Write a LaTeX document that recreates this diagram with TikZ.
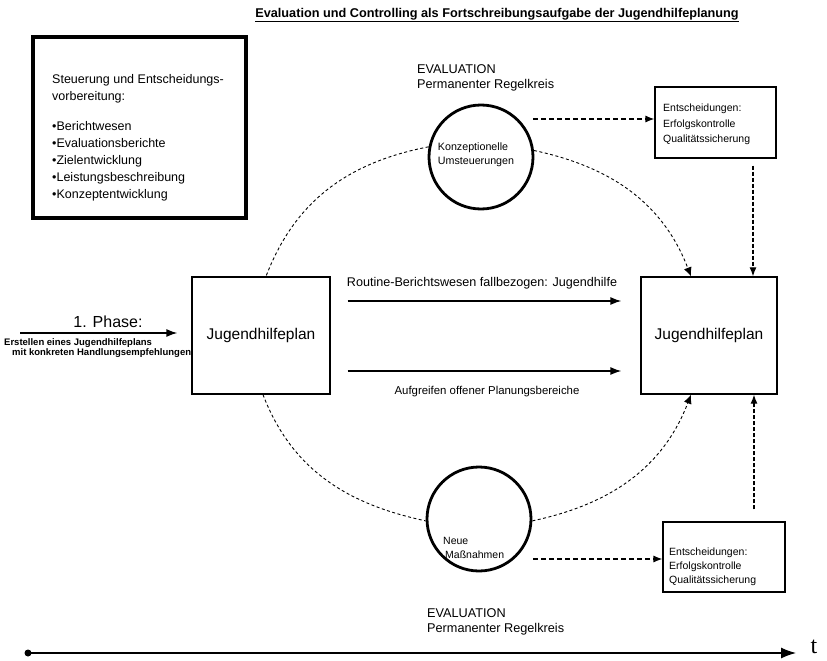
\documentclass[tikz,border=0pt]{standalone}
\usepackage{fontspec}
\setmainfont{Liberation Sans}
\newfontfamily\serifft{Liberation Serif}
\usetikzlibrary{arrows.meta,calc}
\begin{document}
\begin{tikzpicture}[x=1pt,y=-1pt,
  plan/.style={draw, line width=1.3pt, minimum width=138pt, minimum height=117pt, font=\fontsize{15.5}{17}\selectfont},
  ebox/.style={draw, line width=1.1pt},
  evcirc/.style={draw, circle, line width=2.8pt, minimum size=104pt, fill=white, inner sep=0pt},
  ell/.style={line width=0.9pt, dash pattern=on 3pt off 2.5pt},
  ellarrow/.style={ell, -{Latex[length=9pt,width=8pt]}},
  dcon/.style={line width=1.2pt, dash pattern=on 5pt off 3pt, -{Latex[length=9pt,width=7pt]}},
  vcon/.style={line width=1.2pt, dash pattern=on 4pt off 2pt, -{Latex[length=9pt,width=7pt]}},
  sarrow/.style={line width=1.3pt, -{Latex[length=11pt,width=8pt]}},
  txt/.style={inner sep=0pt, align=left},
]
\useasboundingbox (0,0) rectangle (827,661);

% title
\node[inner sep=0pt, font=\fontsize{12.7}{14}\selectfont\bfseries] (title) at (497,15)
  {\underline{Evaluation und Controlling als Fortschreibungsaufgabe der Jugendhilfeplanung}};

% steering box
\node[draw, line width=4pt, minimum width=213pt, minimum height=181pt, inner sep=0pt] (sb) at (139.5,127.5) {};
\node[txt, anchor=west, font=\fontsize{12.5}{17}\selectfont] (sbt) at (52,138)
  {Steuerung und Entscheidungs-\\vorbereitung:\\[13pt]
   •Berichtwesen\\•Evaluationsberichte\\•Zielentwicklung\\•Leistungsbeschreibung\\•Konzeptentwicklung};

% plan boxes
\node[plan] (lp) at (261,335.5) {Jugendhilfeplan};
\node[plan, minimum width=136pt] (rp) at (709,335.5) {Jugendhilfeplan};

% decision boxes
\node[ebox, minimum width=121pt, minimum height=71pt] (e1) at (715.5,122.5) {};
\node[txt, anchor=west, font=\fontsize{10.5}{15.5}\selectfont] (e1t) at (663,124.5)
  {Entscheidungen:\\Erfolgskontrolle\\Qualitätssicherung};
\node[ebox, minimum width=122pt, minimum height=70pt] (e2) at (724,557) {};
\node[txt, anchor=west, font=\fontsize{10.5}{14}\selectfont] (e2t) at (669,567)
  {Entscheidungen:\\Erfolgskontrolle\\Qualitätssicherung};

% evaluation labels
\node[txt, anchor=west, font=\fontsize{12.7}{15}\selectfont] (ev1) at (417,77.5)
  {EVALUATION\\Permanenter Regelkreis};
\node[txt, anchor=west, font=\fontsize{12.7}{15}\selectfont] (ev2) at (427,621.5)
  {EVALUATION\\Permanenter Regelkreis};

% big dashed loop
\node[evcirc] (tc) at (481,157) {};
\node[evcirc] (bc) at (479,519) {};
\draw[ell] (tc.169) to[out=191,in=69] ([xshift=5pt]lp.north);
\draw[ellarrow] (tc.7) to[out=-12,in=111] ([xshift=-18pt]rp.north);
\draw[ell] ([xshift=2pt]lp.south) to[out=-69,in=168] (bc.182);
\draw[ellarrow] (bc.-2) to[out=12,in=249] ([xshift=-18pt]rp.south);

\node[txt, font=\fontsize{10.7}{14}\selectfont] (tct) at (476,155)
  {Konzeptionelle\\Umsteuerungen};
\node[txt, anchor=west, font=\fontsize{10.5}{14.5}\selectfont] (bct) at (443,548)
  {Neue\\\hspace*{2pt}Maßnahmen};

% dashed connectors
\coordinate (a1) at (533,119);
\draw[dcon] (a1) -- (a1 -| e1.west);
\coordinate (a2) at (533,559);
\draw[dcon] (a2) -- (a2 -| e2.west);
\draw[vcon] ($(e1.south)+(37.5,7)$) -- ($(rp.north)+(44,0)$);
\draw[vcon] ($(e2.north)+(30,-12)$) -- ($(rp.south)+(45,0)$);

% solid arrows between plans
\draw[sarrow, shorten <=17pt, shorten >=19pt] ([yshift=34.5pt]lp.east) -- ([yshift=34.5pt]rp.west);
\draw[sarrow, shorten <=17pt, shorten >=19pt] ([yshift=-35.5pt]lp.east) -- ([yshift=-35.5pt]rp.west);
\node[inner sep=0pt, font=\fontsize{12.6}{14}\selectfont] (rt) at (482,283)
  {Routine-Berichtswesen fallbezogen: Jugendhilfe};
\node[inner sep=0pt, font=\fontsize{11.4}{13}\selectfont] (ag) at (487,392)
  {Aufgreifen offener Planungsbereiche};

% phase
\node[inner sep=0pt, font=\fontsize{16}{18}\selectfont] (ph) at (108,322) {1. Phase:};
\coordinate (phs) at (20,333);
\draw[sarrow, shorten >=14pt] (phs) -- (phs -| lp.west);
\node[txt, anchor=west, font=\fontsize{9.5}{10}\selectfont\bfseries] (pht) at (4,348.5)
  {Erstellen eines Jugendhilfeplans\\\hspace*{8pt}mit konkreten Handlungsempfehlungen};

% time axis
\node[circle, fill, inner sep=0pt, minimum size=7pt] (t0) at (28,653) {};
\coordinate (tend) at (796,653);
\draw[line width=1.2pt, -{Latex[length=15pt,width=11pt]}] (t0.center) -- (tend);
\node[inner sep=0pt, font=\serifft\fontsize{24}{26}\selectfont] (tl) at (814,647) {t};
\end{tikzpicture}
\end{document}
